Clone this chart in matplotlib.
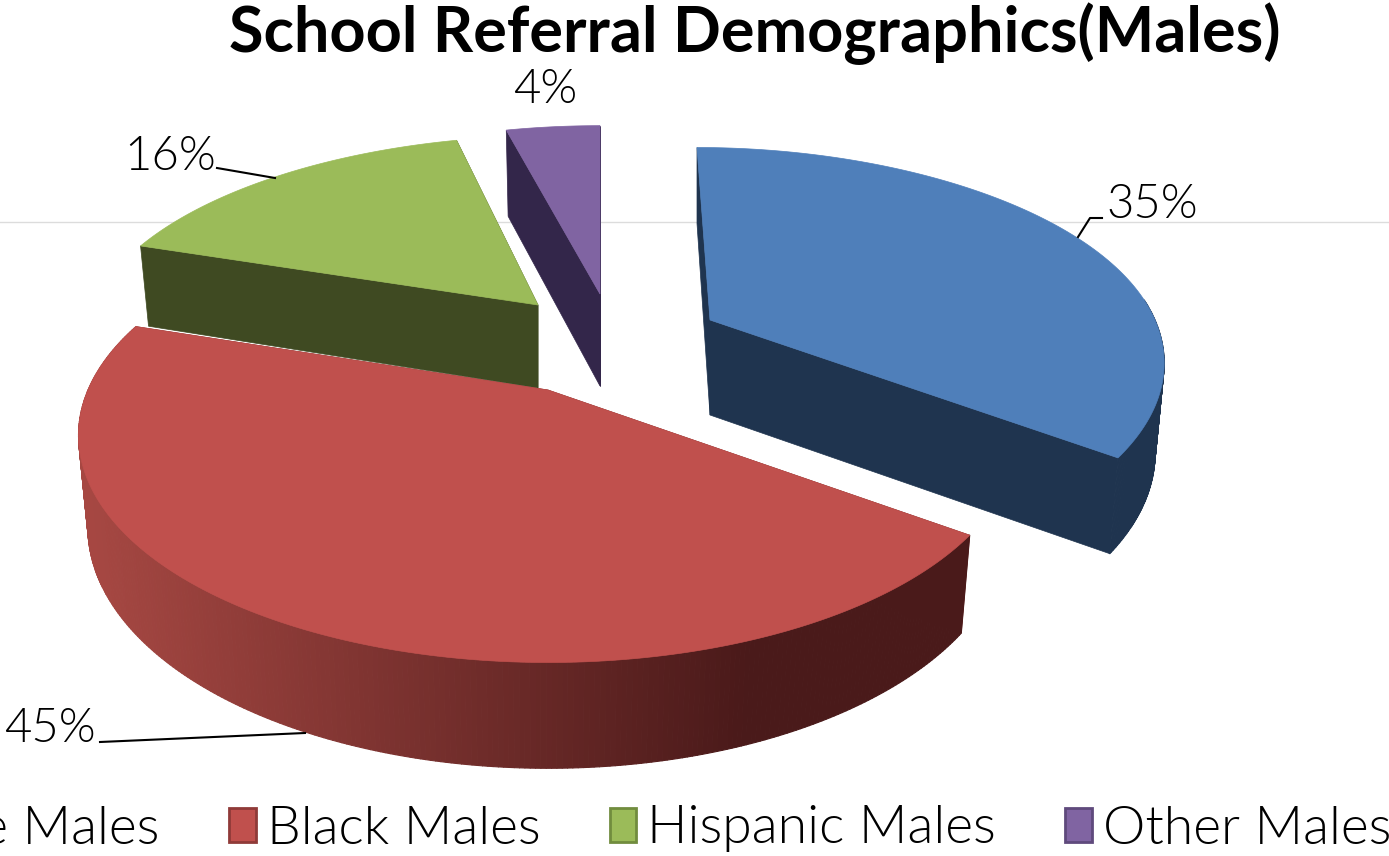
# School referral pie, drawn by hand because matplotlib has no 3D exploded pie
import numpy as np
import matplotlib
matplotlib.use("Agg")
import matplotlib.pyplot as plt
from matplotlib.patches import Patch, Polygon
from matplotlib.collections import PolyCollection

# Data
groups = ['White Males', 'Black Males', 'Hispanic Males', 'Other Males']
shares = [35, 45, 16, 4]
title = 'School Referral Demographics(Males)'

# Look
top_colors = ['#4f7fba', '#c0504d', '#9bbb59', '#8064a2']
side_colors = ['#1f344f', '#7a2c2a', '#3f4a22', '#33264a']
edge_colors = ['#3a6496', '#8f3a38', '#718c3e', '#5f4a7c']

# Layout, in picture pixels
apex_x = [710, 548, 538, 600]
apex_y = [320, 390, 305, 294]
apex_wall = [95, 90, 83, 92]
rim_wall = [87, 89, 84, 99]
rx = [445, 460, 445, 450]
ry = [207, 218, 203, 202]
lean = [13, 0, -12, 0]
persp = 0.2
shrink = 0.98

plt.rcParams['font.family'] = ['Lato', 'DejaVu Sans']
fig = plt.figure(figsize=(13.89, 8.56), dpi=100)
ax = fig.add_axes([0, 0, 1, 1])
ax.set_xlim(0, 1389)
ax.set_ylim(856, 0)
ax.axis('off')

ax.axhline(222, color='#dcdcdc', lw=1, zorder=0)


def rim(i, theta, drop=False):
    # theta in radians, clockwise from 12 o'clock, projected with perspective
    u, v = np.sin(theta), np.cos(theta)
    s = 1 / (1 + persp * v)
    k = shrink if drop else 1
    x = apex_x[i] + k * rx[i] * u * s - lean[i] * np.clip(v, 0, 1) ** 2
    y = apex_y[i] - k * ry[i] * v * s
    if drop:
        y = y + rim_wall[i] * s
    return x, y


edges = np.radians(np.concatenate([[0], np.cumsum(shares)]) * 3.6)

# painter's order: back slices first, red last
for zo, i in enumerate([3, 2, 0, 1]):
    th = np.linspace(edges[i], edges[i + 1], 300)
    xt, yt = rim(i, th)
    xb, yb = rim(i, th, drop=True)
    ax0, ay0 = apex_x[i], apex_y[i]
    ax1, ay1 = ax0, ay0 + apex_wall[i]

    # straight cut faces
    for e in (edges[i], edges[i + 1]):
        x1, y1 = rim(i, e)
        x2, y2 = rim(i, e, drop=True)
        ax.add_patch(Polygon([(ax0, ay0), (x1, y1), (x2, y2), (ax1, ay1)],
                             fc=side_colors[i], ec=side_colors[i], lw=0.5, zorder=2 + zo))

    # outer wall
    quads = []
    cols = []
    for j in range(len(th) - 1):
        if np.cos(th[j]) > 0.1 and i != 1:
            continue
        quads.append([(xt[j], yt[j]), (xt[j + 1], yt[j + 1]), (xb[j + 1], yb[j + 1]), (xb[j], yb[j])])
        if i == 1:
            f = np.clip((xt[j] - 90) / 660, 0, 1)
            cols.append((0.65 - 0.36 * f, 0.28 - 0.18 * f, 0.26 - 0.16 * f))
        else:
            cols.append(side_colors[i])
    if quads:
        ax.add_collection(PolyCollection(quads, facecolors=cols, edgecolors=cols, lw=0.8, zorder=2 + zo))

    # top face
    ax.fill(np.r_[ax0, xt], np.r_[ay0, yt], fc=top_colors[i], ec=top_colors[i], lw=0.5, zorder=2 + zo)

# data labels and leader lines
label_x = [1152, 50, 170, 545]
label_y = [205, 729, 157, 90]
for i, s in enumerate(shares):
    ax.text(label_x[i], label_y[i], f'{s}%', fontsize=34, fontweight=300, ha='center', va='center',
            color='black', zorder=10)
ax.plot([1078, 1090, 1102], [237, 218, 218], color='black', lw=1.5, zorder=10)
ax.plot([305, 100], [733, 742], color='black', lw=1.5, zorder=10)
ax.plot([217, 275], [168, 178], color='black', lw=1.5, zorder=10)

ax.text(755, 34, title, fontsize=45.4, fontweight='bold', ha='center', va='center', color='black')

handles = [Patch(facecolor=top_colors[i], edgecolor=edge_colors[i], lw=2) for i in range(4)]
ax.legend(handles, groups, ncol=4, loc='center', bbox_to_anchor=(610, 829), bbox_transform=ax.transData,
          frameon=False, prop={'weight': 300, 'size': 38.5}, handlelength=0.5, handleheight=0.6,
          handletextpad=0.2, columnspacing=1.3, borderpad=0, borderaxespad=0)

fig.savefig('out.png', dpi=100)
